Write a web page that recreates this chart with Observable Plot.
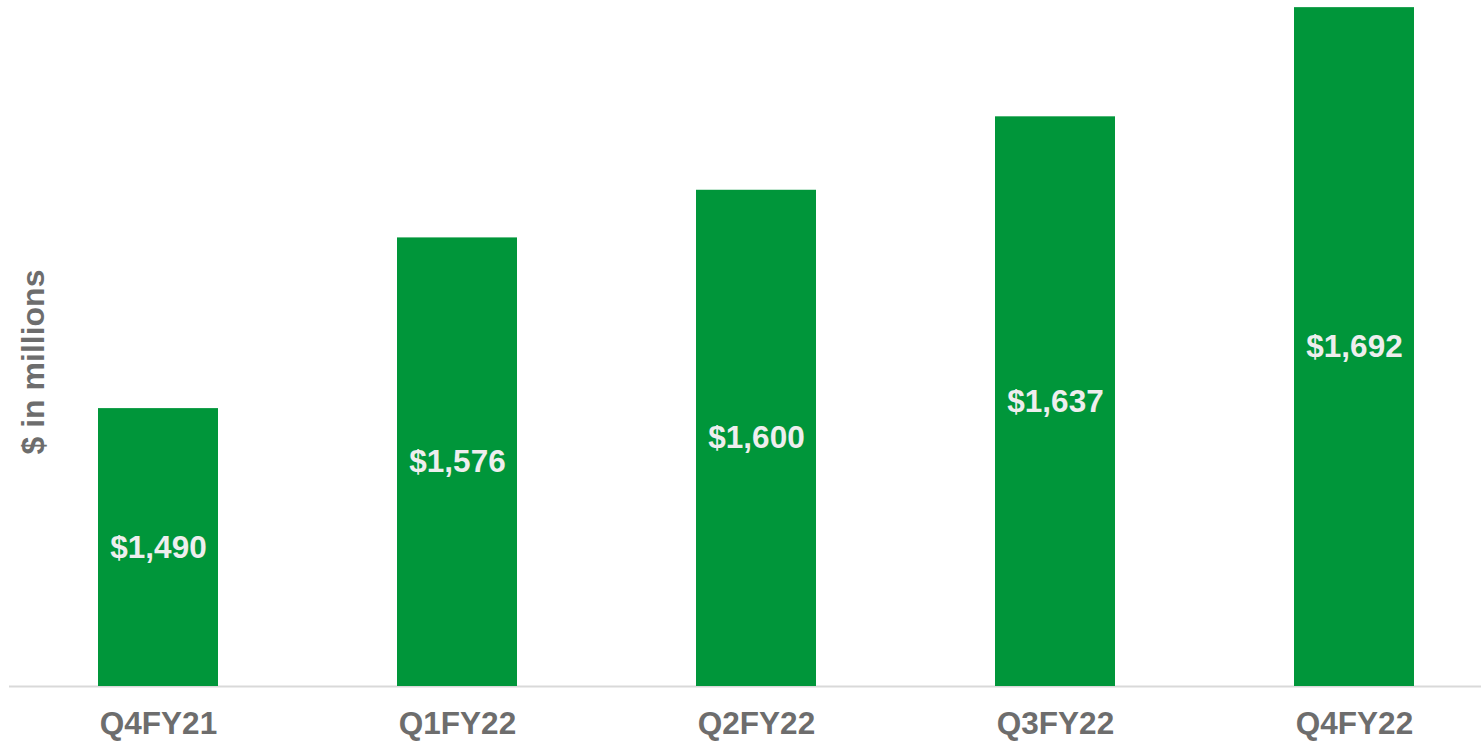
<!DOCTYPE html>
<html>
<head>
<meta charset="utf-8">
<script src="https://cdn.jsdelivr.net/npm/d3@7"></script>
<script src="https://cdn.jsdelivr.net/npm/@observablehq/plot@0.6"></script>
<style>
  html, body { margin: 0; padding: 0; background: #ffffff; }
  #chart { width: 1481px; height: 742px; overflow: hidden; }
  svg { font-family: "Liberation Sans", Arial, sans-serif; }
</style>
</head>
<body>
<div id="chart"></div>
<script>
const quarters = ["Q4FY21", "Q1FY22", "Q2FY22", "Q3FY22", "Q4FY22"];
const revenue = [1490, 1576, 1600, 1637, 1692];
const valueLabels = ["$1,490", "$1,576", "$1,600", "$1,637", "$1,692"];
const yAxisTitle = "$ in millions";
const baseValue = 1350;

const data = quarters.map((q, i) => ({q, v: revenue[i], label: valueLabels[i]}));

const chart = Plot.plot({
  width: 1481,
  height: 742,
  marginTop: 0,
  marginBottom: 56,
  marginLeft: 0,
  marginRight: 0,
  style: {background: "transparent", fontFamily: "\"Liberation Sans\", Arial, sans-serif"},
  x: {domain: quarters, range: [8.5, 1503.5], paddingInner: 0.6, paddingOuter: 0.3, axis: null},
  y: {domain: [baseValue, 1695.6], axis: null},
  marks: [
    Plot.barY(data, {x: "q", y1: baseValue, y2: "v", fill: "#00963a"}),
    Plot.text(data, {x: "q", y: d => (d.v + baseValue) / 2, text: "label", fill: "#eeeeee", fontSize: 31.5, fontWeight: "bold"}),
    Plot.axisX({tickSize: 0, tickPadding: 25, fontSize: 31.5, fontWeight: "bold", fill: "#6d6d6d", label: null})
  ]
});

document.getElementById("chart").appendChild(chart);

const svg = d3.select(chart);
const yBase = chart.scale("y").apply(baseValue);
svg.insert("line", ":first-child")
  .attr("x1", 9).attr("x2", 1481)
  .attr("y1", yBase + 0.5).attr("y2", yBase + 0.5)
  .attr("stroke", "#d9d9d9")
  .attr("stroke-width", 2);

svg.append("text")
  .attr("transform", "translate(44,362) rotate(-90)")
  .attr("text-anchor", "middle")
  .attr("font-size", 32)
  .attr("font-weight", "bold")
  .attr("fill", "#6d6d6d")
  .text(yAxisTitle);
</script>
</body>
</html>
